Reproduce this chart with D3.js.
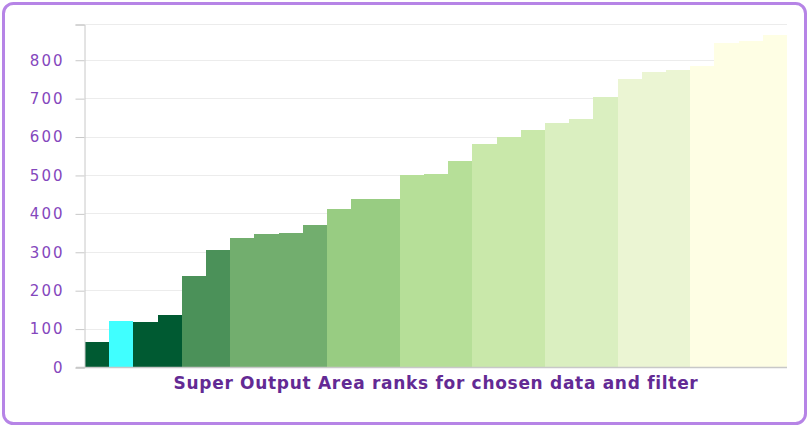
<!DOCTYPE html>
<html>
<head>
<meta charset="utf-8">
<script src="https://cdn.jsdelivr.net/npm/d3@7"></script>
<style>
  body { margin: 0; background: #fff; }
  svg { display: block; }
</style>
</head>
<body>
<div id="chart"></div>
<script>
// Super Output Area ranks, sorted
var ranks = [65, 120, 117, 135, 237, 304, 335, 346, 348, 369, 411, 437, 438, 500, 503, 537,
             581, 600, 618, 636, 645, 702, 751, 769, 774, 783, 843, 849, 864];
// colour band for each bar
var bands = [0, 0, 0, 0, 1, 1, 2, 2, 2, 2, 3, 3, 3, 4, 4, 4, 5, 5, 5, 6, 6, 6, 7, 7, 7, 8, 8, 8, 8];
var bandColours = ["#005a32", "#4b9159", "#72ae6e", "#98cc82", "#b6df98", "#c9e8aa", "#daefc0", "#ebf5d3", "#fefee4"];
var selected = 1;
var yTicks = [0, 100, 200, 300, 400, 500, 600, 700, 800];
var yMax = 893;
var title = "Super Output Area ranks for chosen data and filter";

var svgWidth = 807, svgHeight = 425;
var margin = { top: 24, right: 20, bottom: 58, left: 85 };
var plotRight = 787;

var svg = d3.select("#chart")
    .append("svg")
    .attr("width", svgWidth)
    .attr("height", svgHeight);

// outer rounded frame
svg.append("rect")
    .attr("x", 3.5)
    .attr("y", 3.5)
    .attr("width", svgWidth - 5)
    .attr("height", svgHeight - 5)
    .attr("rx", 10)
    .attr("fill", "#fff")
    .attr("stroke", "#b684e6")
    .attr("stroke-width", 3);

var xScale = d3.scaleBand()
    .domain(d3.range(ranks.length))
    .range([margin.left, plotRight])
    .padding(0);

var yScale = d3.scaleLinear()
    .domain([0, yMax])
    .range([svgHeight - margin.bottom, margin.top]);

// gridlines
svg.append("g").selectAll("line")
    .data(yTicks.slice(1).concat([yMax]))
    .enter()
    .append("line")
    .attr("x1", margin.left)
    .attr("x2", plotRight)
    .attr("y1", d => Math.round(yScale(d)) + 0.5)
    .attr("y2", d => Math.round(yScale(d)) + 0.5)
    .attr("stroke", "#ececec")
    .attr("stroke-width", 1);

// bars
svg.append("g")
    .attr("shape-rendering", "crispEdges")
    .selectAll("rect")
    .data(ranks)
    .enter()
    .append("rect")
    .attr("x", (d, i) => Math.round(xScale(i)))
    .attr("y", d => Math.round(yScale(d)))
    .attr("width", (d, i) => Math.round(xScale(i) + xScale.bandwidth()) - Math.round(xScale(i)))
    .attr("height", d => Math.round(yScale(0)) - Math.round(yScale(d)))
    .attr("fill", (d, i) => i === selected ? "#40ffff" : bandColours[bands[i]]);

// y axis
var yAxis = d3.axisLeft(yScale)
    .tickValues(yTicks.concat([yMax]))
    .tickFormat(d => d === yMax ? "" : d)
    .tickSize(9)
    .tickPadding(11);

var yAxisG = svg.append("g")
    .attr("transform", `translate(${margin.left - 0.5}, 0.5)`)
    .call(yAxis);

yAxisG.select(".domain").attr("stroke", "#c8c8c8");
yAxisG.selectAll(".tick line").attr("stroke", "#c8c8c8");
yAxisG.selectAll(".tick text")
    .attr("fill", "#8447bd")
    .attr("font-family", "'DejaVu Sans', Verdana, sans-serif")
    .attr("font-size", "15px")
    .attr("letter-spacing", "2px");

// baseline
svg.append("line")
    .attr("x1", margin.left - 9)
    .attr("x2", plotRight)
    .attr("y1", Math.round(yScale(0)) + 0.5)
    .attr("y2", Math.round(yScale(0)) + 0.5)
    .attr("stroke", "#c8c8c8")
    .attr("stroke-width", 1.5);

// axis title
svg.append("text")
    .attr("x", (margin.left + plotRight) / 2)
    .attr("y", 389)
    .attr("text-anchor", "middle")
    .attr("font-family", "'DejaVu Sans', Verdana, sans-serif")
    .attr("font-weight", "bold")
    .attr("font-size", "17px")
    .attr("letter-spacing", "0.7px")
    .attr("fill", "#632a94")
    .text(title);
</script>
</body>
</html>
